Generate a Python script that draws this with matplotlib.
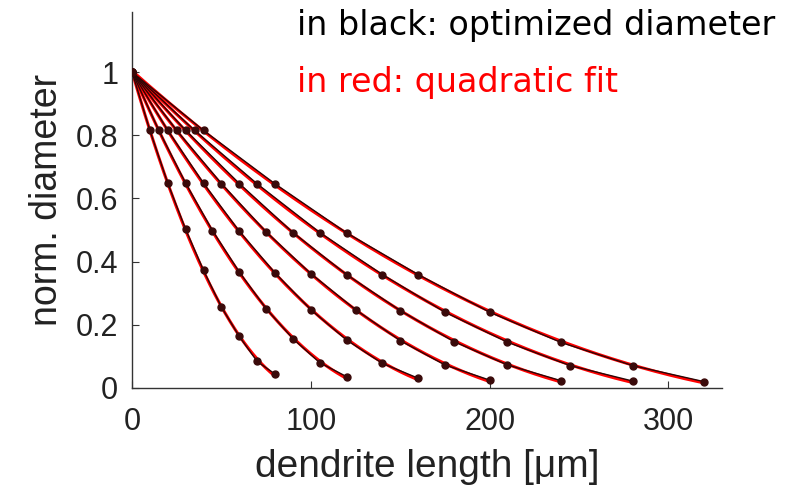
import numpy as np
import matplotlib
matplotlib.use("Agg")
import matplotlib.pyplot as plt

# total dendrite lengths [um], each curve sampled at 9 equally spaced nodes
lengths = [80, 120, 160, 200, 240, 280, 320]

# optimized normalized diameter at node k (rows) for each length (columns)
diam = [
    [1.000, 1.000, 1.000, 1.000, 1.000, 1.000, 1.000],
    [0.815, 0.815, 0.815, 0.815, 0.815, 0.815, 0.815],
    [0.648, 0.648, 0.648, 0.647, 0.647, 0.646, 0.646],
    [0.502, 0.498, 0.496, 0.494, 0.492, 0.492, 0.491],
    [0.372, 0.367, 0.364, 0.362, 0.359, 0.359, 0.359],
    [0.256, 0.251, 0.248, 0.248, 0.245, 0.240, 0.240],
    [0.163, 0.156, 0.152, 0.150, 0.147, 0.145, 0.144],
    [0.084, 0.080, 0.078, 0.073, 0.073, 0.071, 0.071],
    [0.044, 0.036, 0.031, 0.025, 0.023, 0.022, 0.020],
]

n_nodes = len(diam)

fig = plt.figure(figsize=(7.93, 4.92), dpi=100)
ax = fig.add_axes([0.1665, 0.2114, 0.744, 0.7642])

for j, L in enumerate(lengths):
    x = np.linspace(0, L, n_nodes)
    y = np.array([row[j] for row in diam])
    # quadratic fit in red
    p = np.polyfit(x, y, 2)
    xf = np.linspace(0, L, 200)
    ax.plot(xf, np.polyval(p, xf), color="red", lw=2.2, zorder=2)
    # optimized diameter in black
    ax.plot(x, y, color="#2b0606", lw=1.0, zorder=3)
    ax.plot(x, y, "o", color="#3a0a0a", ms=5, zorder=4)

ax.set_xlim(0, 330)
ax.set_ylim(0, 1.19)
ax.set_xticks([0, 100, 200, 300])
ax.set_yticks([0, 0.2, 0.4, 0.6, 0.8, 1])
ax.set_yticklabels(["0", "0.2", "0.4", "0.6", "0.8", "1"])
for s in ["top", "right"]:
    ax.spines[s].set_visible(False)
for s in ["left", "bottom"]:
    ax.spines[s].set_color("#333333")
    ax.spines[s].set_linewidth(1.0)
ax.tick_params(direction="in", length=5, width=0.8, colors="#333333",
               labelcolor="#222222", labelsize=22)
ax.tick_params(axis="x", pad=14)
ax.tick_params(axis="y", pad=10)
for lab in ax.get_xticklabels() + ax.get_yticklabels():
    lab.set_family("Liberation Sans")

ax.set_xlabel("dendrite length [\u03bcm]", fontsize=28, family="Liberation Sans",
              color="#222222", labelpad=8)
ax.set_ylabel("norm. diameter", fontsize=27, family="Liberation Sans",
              color="#222222", labelpad=8)

fig.text(297 / 793, 1 - 35 / 492, "in black: optimized diameter", fontsize=24,
         family="DejaVu Sans", color="black", va="baseline", ha="left")
fig.text(297 / 793, 1 - 92 / 492, "in red: quadratic fit", fontsize=24,
         family="DejaVu Sans", color="red", va="baseline", ha="left")

fig.savefig("out.png", dpi=100)
